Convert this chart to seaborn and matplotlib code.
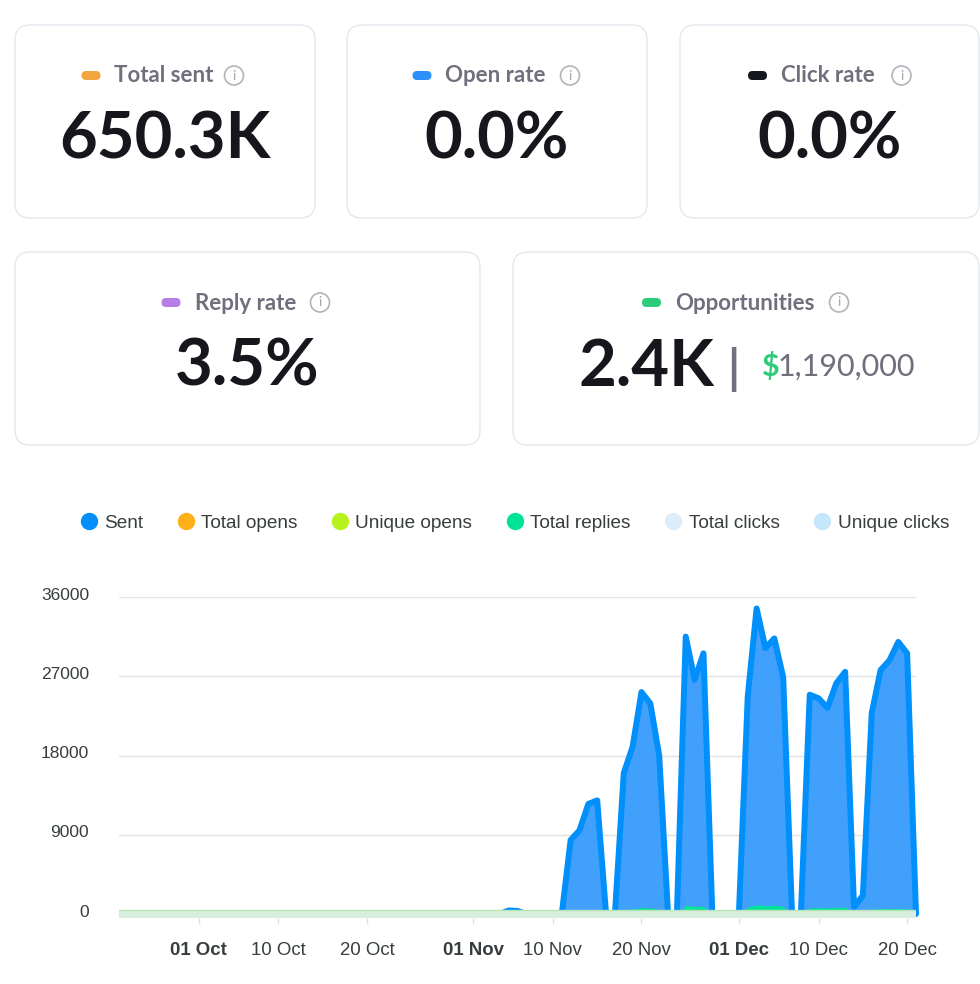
import pandas as pd
import matplotlib.pyplot as plt
import matplotlib.dates as mdates
import matplotlib.transforms as mtransforms
import seaborn as sns
from matplotlib.patches import FancyBboxPatch, Circle
from matplotlib.lines import Line2D

#%% DATA
card_titles = ["Total sent", "Open rate", "Click rate", "Reply rate", "Opportunities"]
card_values = ["650.3K", "0.0%", "0.0%", "3.5%", "2.4K"]
card_colors = ["#f2a63e", "#2e90fa", "#16181d", "#b67ee6", "#2ecc7a"]
opportunity_amount = "1,190,000"

# daily values starting 1 Nov
start_date = "2024-11-01"
sent = [0, 0, 0, 0, 400, 350, 0, 0, 0, 0,
        0, 8400, 9500, 12500, 12900, 0, 0, 16000, 19000, 25200,
        23900, 18000, 0, 0, 31500, 26600, 29600, 0, 0, 0,
        0, 24700, 34700, 30200, 31300, 26900, 0, 0, 24900, 24500,
        23400, 26200, 27500, 800, 2100, 22800, 27700, 28800, 30900, 29600,
        0]
replies = [0, 0, 0, 0, 0, 0, 0, 0, 0, 0,
           0, 250, 300, 380, 400, 0, 0, 480, 560, 720,
           700, 520, 0, 0, 1000, 850, 900, 0, 0, 0,
           0, 800, 1050, 950, 1000, 850, 0, 0, 700, 720,
           680, 760, 780, 20, 60, 560, 620, 600, 640, 600,
           0]

legend_labels = ["Sent", "Total opens", "Unique opens", "Total replies",
                 "Total clicks", "Unique clicks"]
legend_colors = ["#008ffb", "#feb019", "#b8f21d", "#00e396", "#dcecf8", "#c5e6fb"]

y_ticks = [0, 9000, 18000, 27000, 36000]
x_tick_dates = ["2024-10-01", "2024-10-10", "2024-10-20", "2024-11-01", "2024-11-10",
                "2024-11-20", "2024-12-01", "2024-12-10", "2024-12-20"]
x_tick_labels = ["01 Oct", "10 Oct", "20 Oct", "01 Nov", "10 Nov",
                 "20 Nov", "01 Dec", "10 Dec", "20 Dec"]
x_start, x_end = "2024-09-22", "2024-12-21"

df = pd.DataFrame({
    "date": pd.date_range(start_date, periods=len(sent), freq="D"),
    "sent": sent,
    "replies": replies,
})

#%% STYLE
sns.set_theme(style="white")
plt.rcParams["font.family"] = ["Liberation Sans", "DejaVu Sans"]
CARD_FONT = ["Lato", "DejaVu Sans"]
TITLE_GRAY = "#6f6f7d"
DARK = "#15171c"
TEXT = "#373d3f"

W, H = 980, 984
fig = plt.figure(figsize=(W / 100, H / 100), dpi=100)
fig.patch.set_facecolor("white")

# background axes in pixel coordinates for the KPI cards
bg = fig.add_axes([0, 0, 1, 1])
bg.set_xlim(0, W)
bg.set_ylim(H, 0)
bg.axis("off")

cards = [(15, 25, 300, 193), (347, 25, 300, 193), (680, 25, 299, 193),
         (15, 252, 465, 193), (513, 252, 466, 193)]
title_pos = [(91, 114, 234, 82.5), (422, 445, 570, 82.5), (757.5, 780.5, 901.5, 82.5),
             (171, 195, 320, 309.5), (651.5, 675, 839, 309.5)]
value_pos = [(165, 158.5), (497, 158.5), (830, 158.5), (247.5, 385.5), (578, 385.5)]

for i, (x, y, w, h) in enumerate(cards):
    bg.add_patch(FancyBboxPatch((x, y), w, h, boxstyle="round,pad=0,rounding_size=15",
                                facecolor="white", edgecolor="#e3e7ee", lw=1))
    px, tx, ix, ty = title_pos[i]
    bg.add_patch(FancyBboxPatch((px - 9.5, ty - 11.5), 19, 9, boxstyle="round,pad=0,rounding_size=4.5",
                                facecolor=card_colors[i], edgecolor="none"))
    bg.text(tx, ty, card_titles[i], ha="left", va="baseline", fontsize=16,
            fontweight="bold", color=TITLE_GRAY, family=CARD_FONT)
    bg.add_patch(Circle((ix, ty - 7), 9.5, facecolor="none", edgecolor="#b3b3bb", lw=1.2))
    bg.text(ix, ty - 7, "i", ha="center", va="center", fontsize=10,
            color="#a5a5ae", family=CARD_FONT)
    vx, vy = value_pos[i]
    bg.text(vx, vy, card_values[i], ha="left" if i == 4 else "center", va="baseline",
            fontsize=47, fontweight="bold", color=DARK, family=CARD_FONT)

# opportunities amount
bg.text(733, 384, "|", ha="center", va="baseline", fontsize=34, fontweight="bold",
        color="#707080", family=CARD_FONT)
bg.text(761, 376, "$", ha="left", va="baseline", fontsize=22, fontweight="bold",
        color="#2ecc7a", family=CARD_FONT)
bg.text(778, 376, opportunity_amount, ha="left", va="baseline", fontsize=22,
        color="#6f6f7d", family=CARD_FONT)

#%% CHART
ax = fig.add_axes([119 / W, 1 - 918 / H, (916 - 119) / W, (918 - 597) / H])
ax.set_facecolor("none")

ax.fill_between(df["date"], 0, df["sent"], color="#42a0fd", lw=0, zorder=2)
sns.lineplot(data=df, x="date", y="sent", ax=ax, color="#008ffb", lw=4.3,
             zorder=2.5, clip_on=False, solid_joinstyle="round")
ax.fill_between(df["date"], 0, df["replies"], color="#00e396", lw=0, zorder=2.7)

ax.axhspan(-454, 454, facecolor="#d9eedf", edgecolor="none", zorder=3)
ax.axhline(454, color="#b8e3b3", lw=1, zorder=3.1)

ax.set_xlim(mdates.date2num(pd.Timestamp(x_start)), mdates.date2num(pd.Timestamp(x_end)))
ax.set_ylim(-454, 36000)
ax.set_yticks(y_ticks)
ax.set_yticklabels([str(v) for v in y_ticks])
ax.set_xticks([mdates.date2num(pd.Timestamp(d)) for d in x_tick_dates])
ax.set_xticklabels(x_tick_labels)
for lbl in ax.get_xticklabels():
    if lbl.get_text().startswith("01"):
        lbl.set_fontweight("bold")

ax.set_xlabel("")
ax.set_ylabel("")
ax.yaxis.grid(True, color="#e2e2e2", lw=1)
ax.xaxis.grid(False)
for s in ax.spines.values():
    s.set_visible(False)
ax.tick_params(axis="y", length=0, pad=21.5, labelsize=12.5, labelcolor=TEXT)
ax.tick_params(axis="x", length=4.5, width=1, color="#e0e0e0", pad=13,
               labelsize=13.4, labelcolor=TEXT, bottom=True)

# y labels sit a few pixels above their grid lines
shift = mtransforms.ScaledTranslation(0, 3.5 / 100, fig.dpi_scale_trans)
for lbl in ax.get_yticklabels():
    lbl.set_transform(lbl.get_transform() + shift)

handles = [Line2D([], [], ls="none", marker="o", markersize=12.5, color=c,
                  markeredgewidth=0) for c in legend_colors]
fig.legend(handles, legend_labels, loc="center", bbox_to_anchor=(514 / W, 1 - 523 / H),
           ncol=6, frameon=False, fontsize=13.7, handlelength=1.0, handletextpad=0.3,
           columnspacing=1.75, labelcolor=TEXT)

fig.savefig("out.png", dpi=100, facecolor="white")
